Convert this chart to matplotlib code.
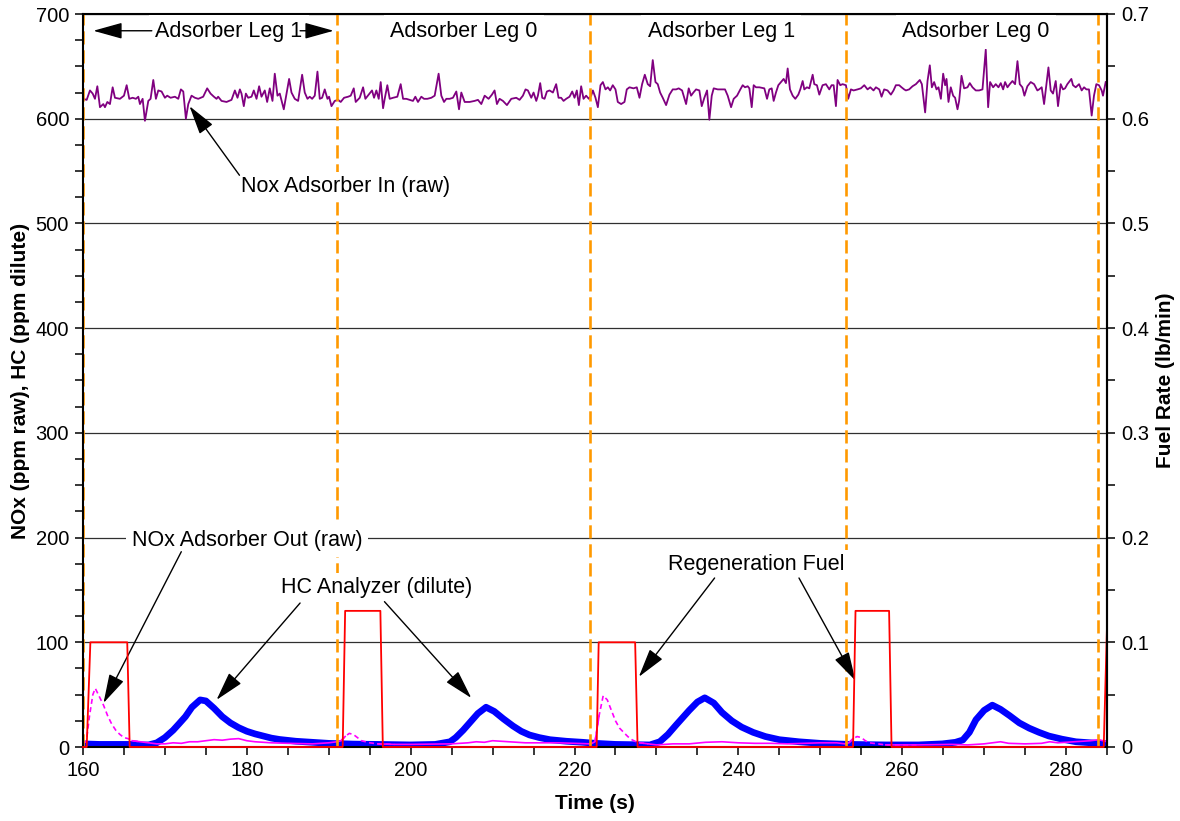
import numpy as np
import matplotlib
matplotlib.use('Agg')
import matplotlib.pyplot as plt
from matplotlib.ticker import MultipleLocator, FuncFormatter

plt.rcParams['font.family'] = ['Liberation Sans', 'DejaVu Sans']

# ---------------- data ----------------
# NOx adsorber in (raw), ppm
nox_in_t = [160.0,160.45,160.85,161.18,161.46,161.75,162.07,162.48,162.68,162.97,163.29,163.62,163.9,164.51,165.0,165.33,165.65,166.06,166.46,166.75,166.95,167.28,167.56,167.97,168.25,168.58,168.9,169.19,169.59,170.0,170.28,170.69,171.22,171.63,171.95,172.24,172.56,172.85,173.25,173.66,174.07,174.67,175.16,175.57,175.98,176.3,176.5,176.91,177.52,178.13,178.54,178.86,179.15,179.35,179.63,179.88,180.16,180.57,180.85,181.18,181.5,181.79,182.19,182.48,182.8,183.13,183.41,183.74,184.02,184.51,184.84,185.16,
            185.45,185.85,186.26,186.75,187.07,187.4,187.68,187.97,188.29,188.62,188.9,189.19,189.51,189.84,190.04,190.33,190.73,191.14,191.46,191.87,192.36,192.68,193.05,193.29,193.78,194.19,194.47,194.88,195.28,195.53,195.81,196.1,196.34,196.63,196.83,197.15,197.44,197.85,198.37,198.78,199.07,199.47,199.88,200.28,200.57,200.89,201.3,201.63,202.03,202.52,202.93,203.41,203.74,204.07,204.35,204.76,205.16,205.57,205.9,206.18,206.59,207.2,207.8,208.21,208.62,209.03,209.51,209.92,210.24,
            210.53,210.85,211.26,211.75,212.28,212.89,213.29,213.7,214.02,214.31,214.72,215.0,215.33,215.53,215.81,216.06,216.34,216.63,216.95,217.36,217.76,218.05,218.37,218.66,218.98,219.39,219.72,220.0,220.28,220.53,220.81,221.1,221.42,221.75,222.03,222.24,222.56,222.85,223.17,223.46,223.78,224.07,224.35,224.67,225.0,225.28,225.69,226.1,226.38,226.71,227.2,227.6,227.93,228.25,228.58,228.94,229.23,229.55,229.88,230.16,230.45,230.77,231.18,231.59,231.99,232.4,232.72,233.13,233.62,233.94,234.23,234.51,234.84,235.24,
            235.53,235.85,236.18,236.46,236.75,236.99,237.48,237.89,238.37,238.7,239.11,239.43,239.84,240.24,240.53,240.81,241.14,241.34,241.63,241.87,242.15,242.56,243.17,243.5,243.78,244.07,244.31,244.59,244.88,245.2,245.53,245.81,246.02,246.3,246.63,246.95,247.32,247.56,247.85,248.05,248.37,248.66,249.07,249.27,249.59,249.88,250.28,250.69,251.1,251.38,251.63,251.91,252.11,252.44,252.72,253.13,253.41,253.74,254.07,254.55,254.96,255.37,255.77,256.1,256.5,256.79,257.2,257.48,257.8,258.21,258.62,258.94,259.23,259.63,259.92,260.24,
            260.45,260.85,261.26,261.67,262.15,262.4,262.8,263.09,263.37,263.62,263.9,264.19,264.43,264.72,265.0,265.24,265.41,265.65,265.93,266.22,266.46,266.75,266.95,267.24,267.56,267.97,268.25,268.58,268.98,269.39,269.8,270.2,270.49,270.73,271.1,271.42,271.75,272.03,272.32,272.56,272.85,273.13,273.46,273.78,274.07,274.35,274.67,274.92,275.28,275.69,276.1,276.5,276.71,277.03,277.32,277.85,278.13,278.41,278.74,279.02,279.35,279.63,279.88,280.16,280.65,280.85,281.18,281.59,281.91,282.2,282.48,282.8,283.13,283.41,283.7,284.02,284.35,284.51,284.84]
nox_in_v = [619,618,627,624,619,631,611,614,611,616,614,630,620,619,622,632,619,620,619,621,614,619,598,617,619,637,619,627,626,620,622,620,621,619,628,626,600,614,622,620,619,621,629,624,621,619,621,617,616,618,627,620,628,624,612,624,620,621,627,619,631,621,627,616,629,617,643,622,624,609,624,638,
            625,619,617,642,625,619,621,619,622,645,619,620,628,619,621,612,617,618,616,620,621,622,629,616,620,630,619,623,627,620,627,619,635,610,619,632,619,620,621,633,619,619,618,617,621,616,621,619,619,620,622,643,622,616,619,619,620,626,609,625,616,616,617,618,614,622,619,623,627,
            614,619,617,613,619,620,618,622,628,627,620,625,617,622,634,620,619,626,627,625,633,620,620,617,619,621,626,620,627,613,631,619,622,619,622,627,620,611,632,635,628,630,627,632,628,616,614,616,628,630,629,630,620,633,642,633,631,656,635,633,625,620,613,623,628,628,629,627,614,629,622,625,628,627,
            612,620,627,599,622,629,628,628,628,622,611,619,622,628,632,630,631,629,611,632,630,630,629,619,628,629,617,625,632,635,638,634,648,628,622,619,623,628,636,628,630,629,642,633,632,623,632,633,628,632,632,612,637,632,633,632,619,628,627,628,629,632,628,630,627,630,628,621,628,627,623,627,632,632,630,628,
            627,628,631,633,637,633,606,636,651,630,635,628,630,619,643,632,638,616,630,622,620,609,617,641,629,630,634,630,627,627,628,666,611,635,630,633,630,634,628,635,630,633,636,633,655,633,630,622,631,635,633,627,628,630,614,649,627,624,636,612,633,628,629,633,638,632,630,633,627,630,628,628,603,622,633,632,627,622,635]

# HC analyzer (dilute), ppm
hc_t = [160,162,164,166,167,168,169,170,171,171.7,172.5,173.3,174.3,175,176,177,178,179,180,181,182,183,184,186,188,190,193,196,200,203,
        204.8,205.5,206.4,207.3,208.2,209.2,210.2,211.3,212.5,213.5,214.5,215.7,217,219,221,222.6,225,229.2,230.4,231.4,232.4,233.2,234,235,235.9,
        237,238,239.2,240.4,241.8,243.3,245,247.4,250,253.5,258,262,264.9,266.5,267.4,268.2,269,270,271,272,273.1,274.3,275.5,276.7,277.9,279.5,281.2,283,285]
hc_v = [3,2.5,2.5,2.5,2,2,4,9,16,22,29,38,45,44,37,29,23,18.5,15,12.5,10.5,8.5,7.2,5.5,4.5,3.5,2.8,2.5,2,2.5,
        5,9,16,24,32,38,34,27,20,15,11.5,9,7,5.5,4.5,3.5,2.5,2,5,12,21,28,35,43,47,
        42,33,25,19,14,10,7,5,3.5,2.5,2,2,3,4.5,6.7,14,26,35,40,36,30,23,18,14,10.5,7.5,5,4,3]

# NOx adsorber out (raw), ppm
nox_out_t = [160,160.4,160.8,161.2,161.5,162,162.5,163,163.5,164,164.5,165,165.5,166,167,168,169,170,171,172,173,174,175,176,177,178,179,180,181,182,183,185,188,190,191,
             191.5,192,192.5,193,193.5,194,195,196,198,200,205,207,208,209,210,212,214,216,218,220,222,222.5,223,223.5,224,224.5,225,225.5,226,226.5,227,227.5,228,229,230,
             232,234,236,238,240,242,244,246,248,250,252,253,253.5,254,254.5,255,255.5,256,257,258,262,266,268,270,271,272,273,275,277,278,279,281,283,284,285]
nox_out_v = [4,5,30,50,56,48,40,30,22,16,12,9,8,6,5,4,3,3,4,3.5,5,5,6,7,6.5,7.5,8,6,5,4.5,4,3.5,3,4,5,
             6,10,13,12,9,6,4,3,2.5,2.5,3,4,5,4.5,6,5,4,4,4,3.5,3,5,30,49,45,35,25,18,14,10,7,5,4,3,2,
             3,3,4.5,5,4,3.5,3.5,3,3.5,4,4,3,4,8,10,9,6,4,3,2,2,2.5,2,3,4,5,3.5,3,3.5,5,4,5,6,7,5]

# Regeneration fuel rate, lb/min
fuel_t = [160,160.45,160.9,165.4,165.7,191.7,192.0,196.3,196.6,222.7,222.95,227.4,227.7,254.0,254.3,258.4,258.7,284.6,285.0]
fuel_v = [0,0,0.1,0.1,0,0,0.13,0.13,0,0,0.1,0.1,0,0,0.13,0.13,0,0,0.115]

# Leg switch times and labels
leg_switch_t = [160.0, 191.05, 221.9, 253.1, 283.9]
leg_label_t = [177.8, 206.46, 237.9, 269.0]
leg_labels = ['Adsorber Leg 1', 'Adsorber Leg 0', 'Adsorber Leg 1', 'Adsorber Leg 0']

x_ticks = [160, 180, 200, 220, 240, 260, 280]
y_ticks = [0, 100, 200, 300, 400, 500, 600, 700]
y2_ticks = [0, 0.1, 0.2, 0.3, 0.4, 0.5, 0.6, 0.7]

# ---------------- figure ----------------
W, H = 1180, 821
fig = plt.figure(figsize=(W / 100, H / 100), dpi=100)
L, R, B, T = 83, 1107, 747, 14
ax = fig.add_axes([L / W, 1 - B / H, (R - L) / W, (B - T) / H])
ax.set_xlim(160, 285)
ax.set_ylim(0, 700)
ax.set_xticks(x_ticks)
ax.set_yticks(y_ticks)
ax.xaxis.set_minor_locator(MultipleLocator(5))
ax.yaxis.set_minor_locator(MultipleLocator(25))
ax.grid(axis='y', which='major', color='#303030', lw=0.9)
ax.set_axisbelow(True)
ax.tick_params(which='both', direction='out', length=6, width=1.1, labelsize=14.5, pad=4)
for s in ax.spines.values():
    s.set_linewidth(1.5)

n = min(len(nox_in_t), len(nox_in_v))
ax.plot(nox_in_t[:n], nox_in_v[:n], color='#800080', lw=1.3, zorder=2)

ax.plot(hc_t, hc_v, color='#0000FF', lw=4.8, zorder=2.2, solid_capstyle='round')

# NOx out: dashed during regenerations, solid otherwise
tt = np.array(nox_out_t, dtype=float)
vv = np.array(nox_out_v, dtype=float)
dmask = np.zeros(len(tt), dtype=bool)
on_times = [fuel_t[1], fuel_t[5], fuel_t[9], fuel_t[13]]
off_times = [fuel_t[4], fuel_t[8], fuel_t[12], fuel_t[16]]
for a, b in zip(on_times, off_times):
    dmask |= (tt >= a - 0.1) & (tt <= b + 1.0)
smask = ~dmask
smask_ext = smask | np.roll(smask, 1) | np.roll(smask, -1)
dmask_ext = dmask | np.roll(dmask, 1) | np.roll(dmask, -1)
ax.plot(tt, np.where(smask_ext, vv, np.nan), color='#FF00FF', lw=1.2, zorder=2.4)
ax.plot(tt, np.where(dmask_ext, vv, np.nan), color='#FF00FF', lw=1.2, ls=(0, (3, 2)), zorder=2.4)

for xs in leg_switch_t:
    ax.axvline(xs, color='#FF9900', lw=1.9, ls=(0, (5, 2.2)), zorder=2.5, clip_on=False)

ax.set_xlabel('Time (s)', fontsize=15, fontweight='bold')
ax.xaxis.set_label_coords(0.5, -0.064)
ax.set_ylabel('NOx (ppm raw), HC (ppm dilute)', fontsize=15, fontweight='bold')
ax.yaxis.set_label_coords(-0.052, 0.5)

# Leg labels along top
for tc, lab in zip(leg_label_t, leg_labels):
    ax.text(tc, 683, lab, ha='center', va='center', fontsize=15.5, zorder=6,
            bbox=dict(facecolor='white', edgecolor='none', pad=4.5))

arrow_kw = dict(arrowstyle='-|>,head_length=0.9,head_width=0.25', color='black', lw=1.0,
                shrinkA=0, shrinkB=0, mutation_scale=20)
ax.annotate('', xy=(161.26, 684), xytext=(168.4, 684), arrowprops=arrow_kw, zorder=7)
ax.annotate('', xy=(190.6, 684), xytext=(186.5, 684), arrowprops=arrow_kw, zorder=7)

# Series annotations
ax.text(192.1, 535, 'Nox Adsorber In (raw)', ha='center', va='center', fontsize=15.5, zorder=6,
        bbox=dict(facecolor='white', edgecolor='none', pad=3))
ax.annotate('', xy=(173.0, 612), xytext=(179.1, 546), arrowprops=arrow_kw, zorder=7)

ax.text(180.0, 197, 'NOx Adsorber Out (raw)', ha='center', va='center', fontsize=15.5, zorder=6,
        bbox=dict(facecolor='white', edgecolor='none', pad=4))
ax.annotate('', xy=(162.5, 42), xytext=(172.0, 186.5), arrowprops=arrow_kw, zorder=7)

ax.text(195.8, 152, 'HC Analyzer (dilute)', ha='center', va='center', fontsize=15.5, zorder=6,
        bbox=dict(facecolor='white', edgecolor='none', pad=3))
ax.annotate('', xy=(176.3, 45), xytext=(186.5, 137.5), arrowprops=arrow_kw, zorder=7)
ax.annotate('', xy=(207.4, 46.8), xytext=(196.8, 138.8), arrowprops=arrow_kw, zorder=7)

ax.text(242.2, 174, 'Regeneration Fuel', ha='center', va='center', fontsize=15.5, zorder=6,
        bbox=dict(facecolor='white', edgecolor='none', pad=3))
ax.annotate('', xy=(227.85, 67), xytext=(237.1, 161.4), arrowprops=arrow_kw, zorder=7)
ax.annotate('', xy=(254.3, 63.3), xytext=(247.4, 161.4), arrowprops=arrow_kw, zorder=7)

# Right axis: fuel rate
ax2 = ax.twinx()
ax2.set_ylim(0, 0.7)
ax2.set_yticks(y2_ticks)
ax2.yaxis.set_major_formatter(FuncFormatter(lambda v, p: '0' if abs(v) < 1e-9 else f'{v:.1f}'))
ax2.yaxis.set_minor_locator(MultipleLocator(0.05))
ax2.tick_params(which='both', direction='out', length=6, width=1.1, labelsize=14.5, pad=4)
for k in ['top', 'left', 'bottom']:
    ax2.spines[k].set_visible(False)
ax2.spines['right'].set_linewidth(1.5)
ax2.plot(fuel_t, fuel_v, color='#FF0000', lw=1.3, clip_on=False)
ax2.set_ylabel('Fuel Rate (lb/min)', fontsize=15, fontweight='bold')
ax2.yaxis.set_label_coords(1.048, 0.5)

fig.savefig('out.png', dpi=100)
